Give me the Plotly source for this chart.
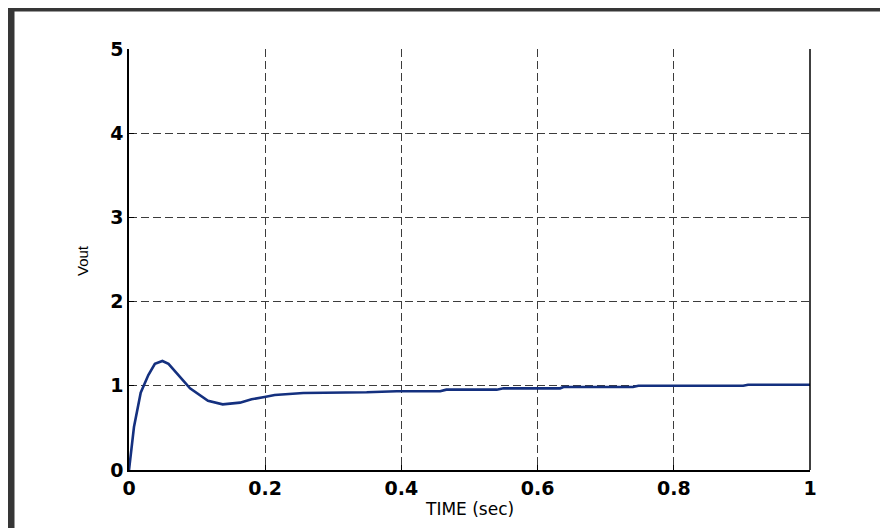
import plotly.graph_objects as go

time_s = [0.0, 0.0073, 0.0172, 0.0284, 0.038, 0.049, 0.058, 0.072, 0.0896, 0.116, 0.1376,
          0.163, 0.180, 0.199, 0.214, 0.256, 0.339, 0.349, 0.393, 0.457, 0.466, 0.54,
          0.55, 0.633, 0.638, 0.74, 0.748, 0.902, 0.909, 1.0]
vout = [0.0, 0.51, 0.918, 1.128, 1.26, 1.295, 1.26, 1.13, 0.97, 0.823, 0.78,
        0.80, 0.84, 0.867, 0.89, 0.915, 0.915, 0.923, 0.935, 0.935, 0.954, 0.954,
        0.97, 0.97, 0.986, 0.986, 1.0, 1.0, 1.013, 1.013]

x_ticks = [0, 0.2, 0.4, 0.6, 0.8, 1]
x_ticklabels = ["0", "0.2", "0.4", "0.6", "0.8", "1"]
y_ticks = [0, 1, 2, 3, 4, 5]
y_ticklabels = ["0", "1", "2", "3", "4", "5"]

# page is offset by the 8px body margin
OFF = 8
W, H = 880, 520
L, R, T, B = 129 - OFF, 810 - OFF, 49 - OFF, 470 - OFF

def px(xp):
    return (xp - OFF - L) / (R - L)

def py(yp):
    return (B - (yp - OFF)) / (B - T)

tickfont = dict(size=19, family="DejaVu Sans, sans-serif", weight="bold", color="black")
gridcol = "#3c3c3c"

fig = go.Figure()
fig.add_trace(go.Scatter(x=time_s, y=vout, mode="lines",
                         line=dict(color="#14307f", width=2.6), showlegend=False))

fig.update_layout(
    width=W, height=H,
    margin=dict(l=L, r=W - R, t=T, b=H - B),
    paper_bgcolor="white", plot_bgcolor="white",
    font=dict(family="Liberation Sans, Arial, sans-serif", color="black"),
    xaxis=dict(range=[0, 1], tickvals=x_ticks, ticktext=x_ticklabels,
               showgrid=True, gridcolor=gridcol, griddash="8px,4px", gridwidth=1,
               showline=True, linecolor="black", linewidth=1.5,
               ticks="inside", ticklen=5, tickcolor="black",
               tickfont=tickfont, zeroline=False, fixedrange=True),
    yaxis=dict(range=[0, 5], tickvals=y_ticks, ticktext=y_ticklabels,
               showgrid=True, gridcolor=gridcol, griddash="8px,4px", gridwidth=1,
               showline=True, linecolor="black", linewidth=1.5,
               ticks="inside", ticklen=5, tickcolor="black",
               tickfont=tickfont, zeroline=False, fixedrange=True),
    annotations=[
        dict(text="TIME (sec)", xref="paper", yref="paper", x=px(469), y=py(509),
             showarrow=False, font=dict(size=17, family="DejaVu Sans, sans-serif"),
             xanchor="center", yanchor="middle"),
        dict(text="Vout", xref="paper", yref="paper", x=px(82), y=py(261),
             showarrow=False, font=dict(size=15, family="Liberation Sans, Arial, sans-serif"),
             textangle=-90, xanchor="center", yanchor="middle"),
    ],
    shapes=[
        dict(type="line", xref="paper", yref="paper", x0=1, x1=1, y0=0, y1=1,
             line=dict(color="black", width=1.5)),
        dict(type="rect", xref="paper", yref="paper", x0=px(8), x1=px(900),
             y0=py(11.5), y1=py(8), fillcolor="#363636", line=dict(width=0), layer="above"),
        dict(type="rect", xref="paper", yref="paper", x0=px(8), x1=px(14.5),
             y0=py(540), y1=py(8), fillcolor="#363636", line=dict(width=0), layer="above"),
    ],
)

fig.write_html("out.html")
